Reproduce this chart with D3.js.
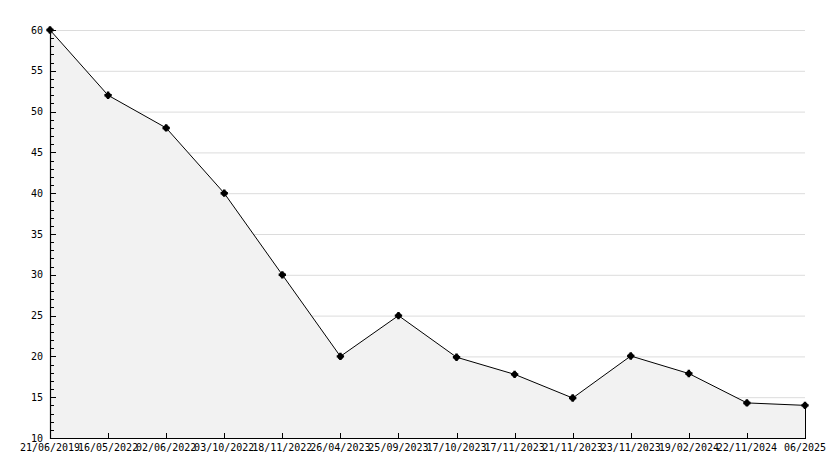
<!DOCTYPE html>
<html><head><meta charset="utf-8">
<script src="https://cdn.jsdelivr.net/npm/d3@7"></script>
<style>
html,body{margin:0;padding:0;background:#fff;}
svg{display:block;}
text{font-family:"DejaVu Sans Mono",monospace;font-size:10px;fill:#000;}
</style></head>
<body>
<script>
const categories = ["21/06/2019","16/05/2022","02/06/2022","03/10/2022","18/11/2022","26/04/2023","25/09/2023","17/10/2023","17/11/2023","21/11/2023","23/11/2023","19/02/2024","22/11/2024","06/2025"];
const values = [60, 52, 48, 40, 30, 20, 25, 19.9, 17.8, 14.9, 20.05, 17.9, 14.3, 14.0];
const yTicks = [10, 15, 20, 25, 30, 35, 40, 45, 50, 55, 60];

const W = 834, H = 468;
const L = 50, R = 805, T = 30, B = 438;

const svg = d3.select("body").append("svg").attr("width", W).attr("height", H);

const x = d3.scalePoint().domain(categories).range([L, R]);
const y = d3.scaleLinear().domain([10, 60]).range([B, T]);

// gridlines
svg.append("g").selectAll("line").data(yTicks.filter(d => d > 10)).join("line")
  .attr("x1", L).attr("x2", R)
  .attr("y1", d => y(d) + 0.5).attr("y2", d => y(d) + 0.5)
  .attr("stroke", "#dcdcdc").attr("stroke-width", 1);

// area
const pts = categories.map((c, i) => [x(c), y(values[i])]);
const area = d3.area().x(d => d[0]).y0(B).y1(d => d[1]);
svg.append("path").datum(pts).attr("d", area).attr("fill", "#f2f2f2");

// line
svg.append("path").datum(pts).attr("d", d3.line())
  .attr("fill", "none").attr("stroke", "#000").attr("stroke-width", 1);
// right edge
svg.append("line").attr("x1", x(categories[categories.length-1]) + 0.5).attr("x2", x(categories[categories.length-1]) + 0.5)
  .attr("y1", y(values[values.length-1])).attr("y2", B).attr("stroke", "#000");

// y axis minor + major ticks
const minor = d3.range(10, 61, 1);
const gy = svg.append("g");
gy.selectAll("line.t").data(minor).join("line")
  .attr("x1", L).attr("x2", d => L + (d % 5 === 0 ? 6 : 4))
  .attr("y1", d => Math.round(y(d)) + 0.5).attr("y2", d => Math.round(y(d)) + 0.5)
  .attr("stroke", "#000");
gy.selectAll("text").data(yTicks).join("text")
  .attr("x", L - 7).attr("y", d => y(d)).attr("dy", "0.35em")
  .attr("text-anchor", "end").text(d => d);
svg.append("line").attr("x1", L + 0.5).attr("x2", L + 0.5).attr("y1", T).attr("y2", B + 1)
  .attr("stroke", "#000").attr("stroke-width", 1.2);

// x axis
svg.append("line").attr("x1", L).attr("x2", R + 1).attr("y1", B + 0.5).attr("y2", B + 0.5)
  .attr("stroke", "#000").attr("stroke-width", 1.2);
const gx = svg.append("g");
gx.selectAll("line").data(categories.slice(1, -1)).join("line")
  .attr("x1", d => Math.round(x(d)) + 0.5).attr("x2", d => Math.round(x(d)) + 0.5)
  .attr("y1", B - 5).attr("y2", B).attr("stroke", "#000");
gx.selectAll("text").data(categories).join("text")
  .attr("x", d => x(d)).attr("y", B + 13).attr("text-anchor", "middle").text(d => d);

// markers
svg.append("g").selectAll("g").data(pts).join("g")
  .attr("transform", d => `translate(${d[0]},${d[1]})`)
  .each(function() {
    const g = d3.select(this);
    g.append("circle").attr("r", 2.9).attr("fill", "#000");
    g.append("path").attr("d", d3.symbol().type(d3.symbolCross).size(30)()).attr("fill", "#000");
  });
</script>
</body></html>
